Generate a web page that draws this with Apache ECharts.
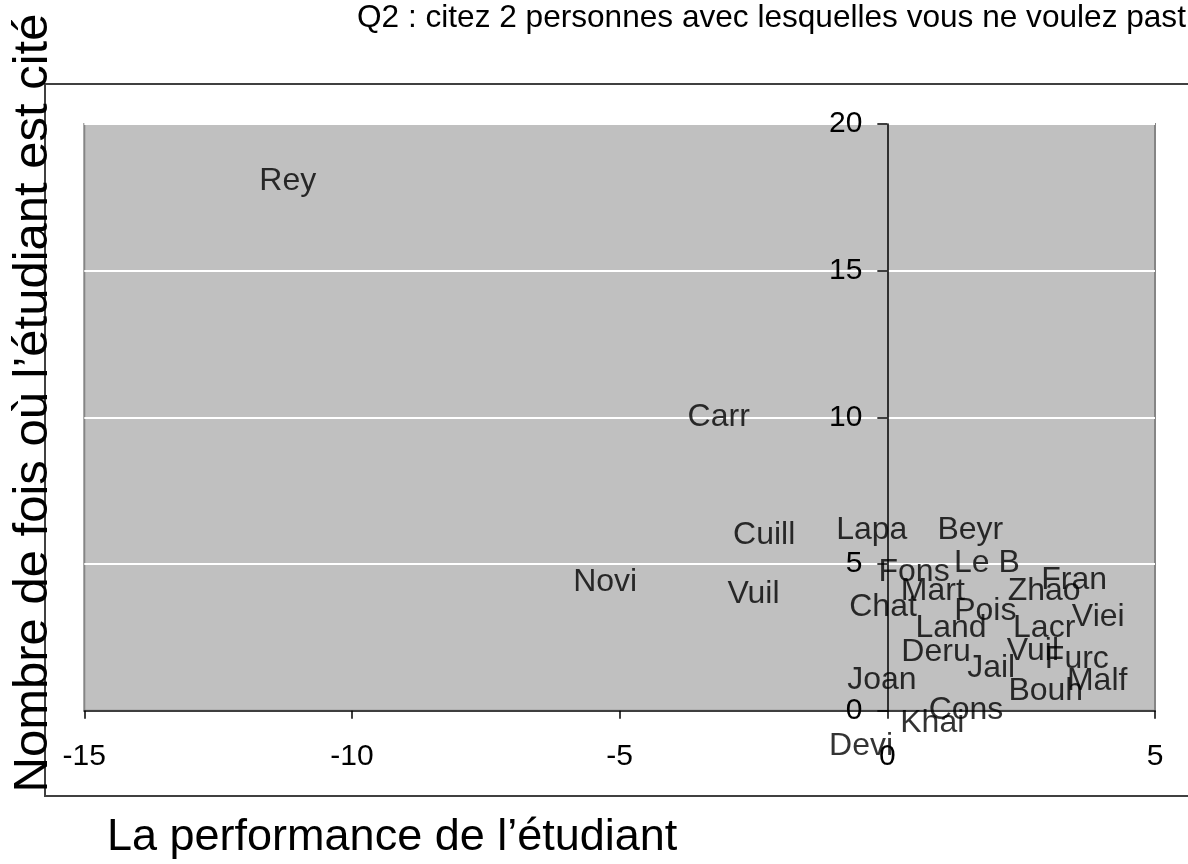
<!DOCTYPE html>
<html>
<head>
<meta charset="utf-8">
<script src="https://cdn.jsdelivr.net/npm/echarts@6/dist/echarts.min.js"></script>
<style>
html,body{margin:0;padding:0;background:#fff;}
#chart{width:1188px;height:864px;}
</style>
</head>
<body>
<div id="chart"></div>
<script>
// Student labels and their positions (performance, number of citations)
const names = ['Rey','Carr','Cuill','Novi','Vuil','Lapa','Beyr','Fons','Le B','Fran','Mart','Zhao','Chat','Pois','Viei','Land','Lacr','Deru','Vuil','Furc','Jail','Joan','Malf','Bouh','Cons','Khai','Devi'];
const performance = [-11.2,-3.15,-2.3,-5.27,-2.5,-0.29,1.55,0.5,1.86,3.49,0.85,2.93,-0.08,1.83,3.94,1.19,2.93,0.91,2.72,3.54,1.94,-0.1,3.92,2.96,1.47,0.84,-0.49];
const citations = [18.05,10.0,6.0,4.38,3.96,6.16,6.16,4.73,5.04,4.46,4.08,4.08,3.54,3.4,3.19,2.82,2.82,2.0,2.04,1.76,1.46,1.05,1.01,0.67,0.02,-0.42,-1.2];
const xTicks = [-15,-10,-5,0,5];
const yTicks = [0,5,10,15,20];

const titleText = 'Q2 : citez 2 personnes avec lesquelles vous ne voulez past';
const xTitle = 'La performance de l\u2019\u00e9tudiant';
const yTitle = 'Nombre de fois o\u00f9 l\u2019\u00e9tudiant est cit\u00e9';

const FONT = '"Liberation Sans", Arial, sans-serif';
const chart = echarts.init(document.getElementById('chart'), null, {renderer: 'canvas'});

const points = names.map((n, i) => ({name: n, value: [performance[i], citations[i]]}));

const gridLeft = 84.3, gridRight = 33;
// y labels sit left of the y-axis line, which crosses the x-axis at 0
const plotW = 1188 - gridLeft - gridRight;
const zeroOffset = plotW * (0 - xTicks[0]) / (xTicks[xTicks.length - 1] - xTicks[0]);

chart.setOption({
  animation: false,
  backgroundColor: '#ffffff',
  grid: {
    left: gridLeft, right: gridRight, top: 124, bottom: 153.3,
    show: true, backgroundColor: '#c0c0c0', borderColor: '#858585', borderWidth: 2,
    containLabel: false, outerBoundsMode: 'none'
  },
  xAxis: {
    type: 'value', min: xTicks[0], max: xTicks[xTicks.length - 1], interval: 5,
    axisLine: {show: true, onZero: false, lineStyle: {color: '#000', width: 1.5}},
    axisTick: {show: true, length: 8, lineStyle: {color: '#000', width: 1.5}},
    axisLabel: {show: true, margin: 31, fontSize: 30, color: '#000', fontFamily: FONT},
    splitLine: {show: false}
  },
  yAxis: {
    type: 'value', min: yTicks[0], max: yTicks[yTicks.length - 1], interval: 5,
    axisLine: {show: true, onZero: true, lineStyle: {color: '#000', width: 1.5}},
    axisTick: {show: true, length: 10, lineStyle: {color: '#000', width: 1.5}},
    axisLabel: {show: true, margin: 25 - zeroOffset, fontSize: 30, color: '#000', fontFamily: FONT},
    splitLine: {show: true, lineStyle: {color: '#ffffff', width: 2}}
  },
  series: [{
    type: 'scatter',
    data: points,
    symbolSize: 1,
    itemStyle: {color: 'rgba(0,0,0,0)'},
    clip: false,
    silent: true,
    emphasis: {disabled: true},
    label: {
      show: true, position: 'inside', formatter: '{b}',
      fontSize: 32, color: '#000', fontFamily: FONT
    }
  }],
  graphic: [
    {type: 'rect', silent: true, z: 0,
     shape: {x: 45, y: 84, width: 1200, height: 712},
     style: {fill: 'none', stroke: '#404040', lineWidth: 2}},
    {type: 'text', silent: true, z: 10, x: 357, y: 18,
     style: {text: titleText, fontSize: 31.6, fontFamily: FONT, fill: '#000', textAlign: 'left', textVerticalAlign: 'middle'}},
    {type: 'text', silent: true, z: 10, x: 107, y: 838,
     style: {text: xTitle, fontSize: 45, fontFamily: FONT, fill: '#000', textAlign: 'left', textVerticalAlign: 'middle'}},
    {type: 'text', silent: true, z: 10, x: 33, y: 403, rotation: Math.PI / 2,
     style: {text: yTitle, fontSize: 49, fontFamily: FONT, fill: '#000', textAlign: 'center', textVerticalAlign: 'middle'}}
  ]
});
</script>
</body>
</html>
